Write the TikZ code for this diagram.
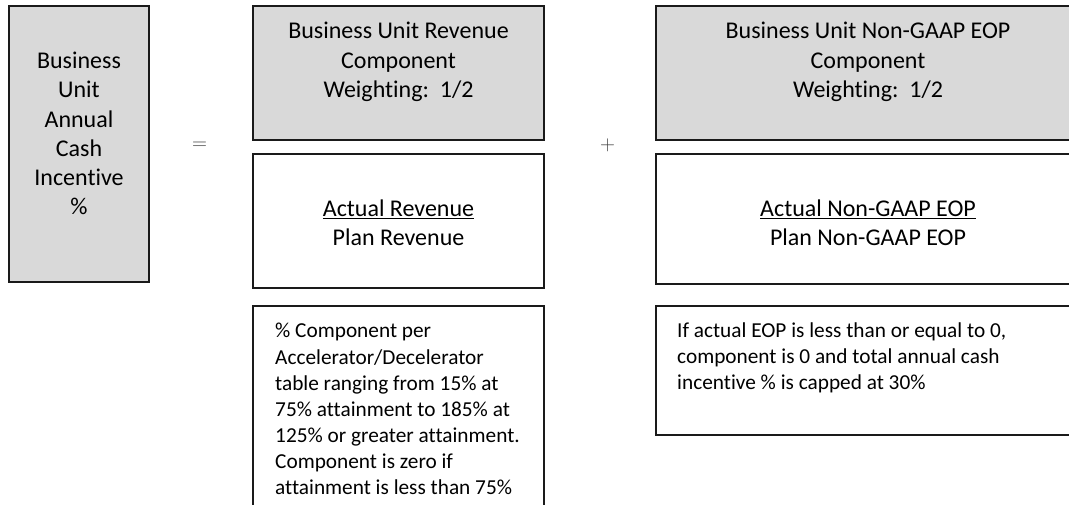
\documentclass[tikz,border=0pt]{standalone}
\usepackage{fontspec}
\setmainfont{Carlito}[Ligatures={NoCommon}]
\definecolor{boxgray}{HTML}{D9D9D9}
\definecolor{edge}{HTML}{1A1A1A}
\tikzset{
  box/.style={draw=edge, line width=1.6pt, rectangle, inner sep=0pt},
  graybox/.style={box, fill=boxgray},
  whitebox/.style={box, fill=white},
  bigtext/.style={inner sep=0pt, align=center, font=\fontsize{24}{29.3}\selectfont},
  smalltext/.style={inner sep=0pt, align=left, font=\fontsize{21.3}{26.1}\selectfont},
  optext/.style={inner sep=0pt, font=\fontsize{21}{24}\selectfont, text=black!75}
}
\begin{document}
\begin{tikzpicture}[x=1pt,y=-1pt]
\useasboundingbox (0,0) rectangle (1069,504);
\clip (0,0) rectangle (1069,504);
% left box
\node[graybox, minimum width=140pt, minimum height=276pt] (total) at (79,144) {};
\node[bigtext] (totaltxt) at (79,133.5) {Business\\Unit\\Annual\\Cash\\Incentive\\\%};
% operators
\node[optext] (eq) at (199.5,145.5) {$=$};
\node[optext] (plus) at (607.5,145.5) {$+$};
% revenue column
\node[graybox, minimum width=291pt, minimum height=134pt] (revhead) at (398.5,73) {};
\node[bigtext] (revheadtxt) at (398.5,62) {Business Unit Revenue\\Component\\Weighting:\ \ 1/2};
\node[whitebox, minimum width=291pt, minimum height=134pt] (revratio) at (398.5,221) {};
\node[bigtext] (revratiotxt) at (398.5,223) {\underline{Actual Revenue}\\Plan Revenue};
\node[whitebox, minimum width=291pt, minimum height=230pt] (revnote) at (398.5,421) {};
\node[smalltext, anchor=base west] (revnotetxt) at (275,494.5) {\% Component per\\Accelerator/Decelerator\\table ranging from 15\% at\\75\% attainment to 185\% at\\125\% or greater attainment.\\Component is zero if\\attainment is less than 75\%};
% EOP column
\node[graybox, minimum width=424pt, minimum height=134pt] (eophead) at (868,73) {};
\node[bigtext] (eopheadtxt) at (868,62) {Business Unit Non-GAAP EOP\\Component\\Weighting:\ \ 1/2};
\node[whitebox, minimum width=424pt, minimum height=130pt] (eopratio) at (868,219) {};
\node[bigtext] (eopratiotxt) at (868,223) {\underline{Actual Non-GAAP EOP}\\Plan Non-GAAP EOP};
\node[whitebox, minimum width=424pt, minimum height=129pt] (eopnote) at (868,370.5) {};
\node[smalltext, anchor=base west] (eopnotetxt) at (677,389.5) {If actual EOP is less than or equal to 0,\\component is 0 and total annual cash\\incentive \% is capped at 30\%};
\end{tikzpicture}
\end{document}
